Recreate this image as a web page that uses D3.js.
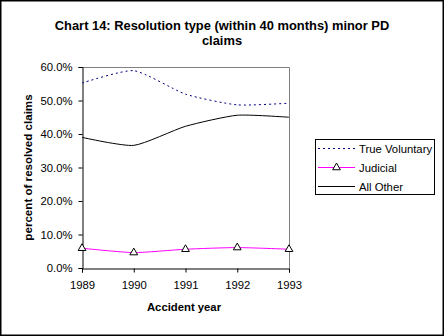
<!DOCTYPE html>
<html>
<head>
<meta charset="utf-8">
<script src="https://cdn.jsdelivr.net/npm/d3@7"></script>
<style>
  body { margin: 0; background: #fff; }
  svg { display: block; font-family: "Liberation Sans", Arial, sans-serif; }
</style>
</head>
<body>
<svg id="chart" width="444" height="336"></svg>
<script>
var years = [1989, 1990, 1991, 1992, 1993]
var trueVoluntary = [55.2, 58.9, 51.9, 48.7, 49.2]
var judicial = [5.9, 4.6, 5.6, 6.1, 5.6]
var allOther = [39.0, 36.6, 42.3, 45.6, 45.0]
var yTicks = [0, 10, 20, 30, 40, 50, 60]

var seriesList = [
  {name: 'True Voluntary', values: trueVoluntary, color: '#000080', dash: '2,3', marker: false},
  {name: 'Judicial', values: judicial, color: '#ff00ff', dash: null, marker: true},
  {name: 'All Other', values: allOther, color: '#000', dash: null, marker: false},
]

var svg = d3.select('#chart')

// outer frame
svg.append('rect')
  .attr('x', 0.75).attr('y', 0.75).attr('width', 442.5).attr('height', 334.5)
  .attr('fill', '#fff').attr('stroke', '#000').attr('stroke-width', 1.5)

var plot = {left: 82, top: 67, right: 289, bottom: 268}

var x = d3.scalePoint().domain(years).range([plot.left, plot.right])
var y = d3.scaleLinear().domain([0, 60]).range([plot.bottom, plot.top])

// plot area border (gray top/right)
svg.append('path')
  .attr('d', `M${plot.left},${plot.top + 0.5}H${plot.right + 0.5}V${plot.bottom}`)
  .attr('fill', 'none').attr('stroke', '#808080')

// title
var title = svg.append('text')
  .attr('text-anchor', 'middle')
  .attr('font-size', 12.9).attr('font-weight', 'bold')
title.append('tspan').attr('x', 222).attr('y', 29.5).text('Chart 14: Resolution type (within 40 months) minor PD')
title.append('tspan').attr('x', 222).attr('y', 44.5).text('claims')

// axes
var yAxis = d3.axisLeft(y).tickValues(yTicks).tickSize(4).tickPadding(6)
  .tickFormat(d => d.toFixed(1) + '%')
svg.append('g').attr('transform', `translate(${plot.left + 0.5},0)`).call(yAxis)
  .call(g => g.selectAll('text').attr('font-size', 11.3).attr('font-family', null).attr('fill', '#000'))

var xAxis = d3.axisBottom(x).tickSize(4).tickPadding(8).tickFormat(d3.format('d'))
svg.append('g').attr('transform', `translate(0,${plot.bottom + 0.5})`).call(xAxis)
  .call(g => g.selectAll('text').attr('font-size', 11.3).attr('font-family', null).attr('fill', '#000'))

svg.selectAll('.domain, .tick line').attr('stroke', '#000')

// axis titles
svg.append('text')
  .attr('transform', `translate(32,${(plot.top + plot.bottom) / 2}) rotate(-90)`)
  .attr('text-anchor', 'middle').attr('font-size', 11.6).attr('font-weight', 'bold')
  .text('percent of resolved claims')

svg.append('text')
  .attr('x', 184).attr('y', 311)
  .attr('text-anchor', 'middle').attr('font-size', 11.3).attr('font-weight', 'bold')
  .text('Accident year')

// lines
var line = d3.line()
  .x((d, i) => x(years[i]))
  .y(d => y(d))
  .curve(d3.curveCardinal.tension(0.4))

seriesList.forEach(s => {
  svg.append('path')
    .datum(s.values)
    .attr('d', line)
    .attr('fill', 'none')
    .attr('stroke', s.color)
    .attr('stroke-width', 1)
    .attr('stroke-dasharray', s.dash)
})

var tri = d3.symbol().type(d3.symbolTriangle).size(26)

function marker(g, cx, cy){
  g.append('path')
    .attr('d', tri)
    .attr('transform', `translate(${cx},${cy})`)
    .attr('fill', '#fff').attr('stroke', '#000').attr('stroke-width', 1)
}

judicial.forEach((v, i) => marker(svg, x(years[i]), y(v)))

// legend
var legend = svg.append('g')
legend.append('rect')
  .attr('x', 315.5).attr('y', 139.5).attr('width', 119).attr('height', 55)
  .attr('fill', '#fff').attr('stroke', '#000')

seriesList.forEach((s, i) => {
  var ly = 148.5 + i * 19
  legend.append('line')
    .attr('x1', 318).attr('x2', 355).attr('y1', ly).attr('y2', ly)
    .attr('stroke', s.color).attr('stroke-dasharray', s.dash)
  if (s.marker) marker(legend, 336.5, ly)
  legend.append('text')
    .attr('x', 359).attr('y', ly + 4)
    .attr('font-size', 11.3)
    .text(s.name)
})
</script>
</body>
</html>
